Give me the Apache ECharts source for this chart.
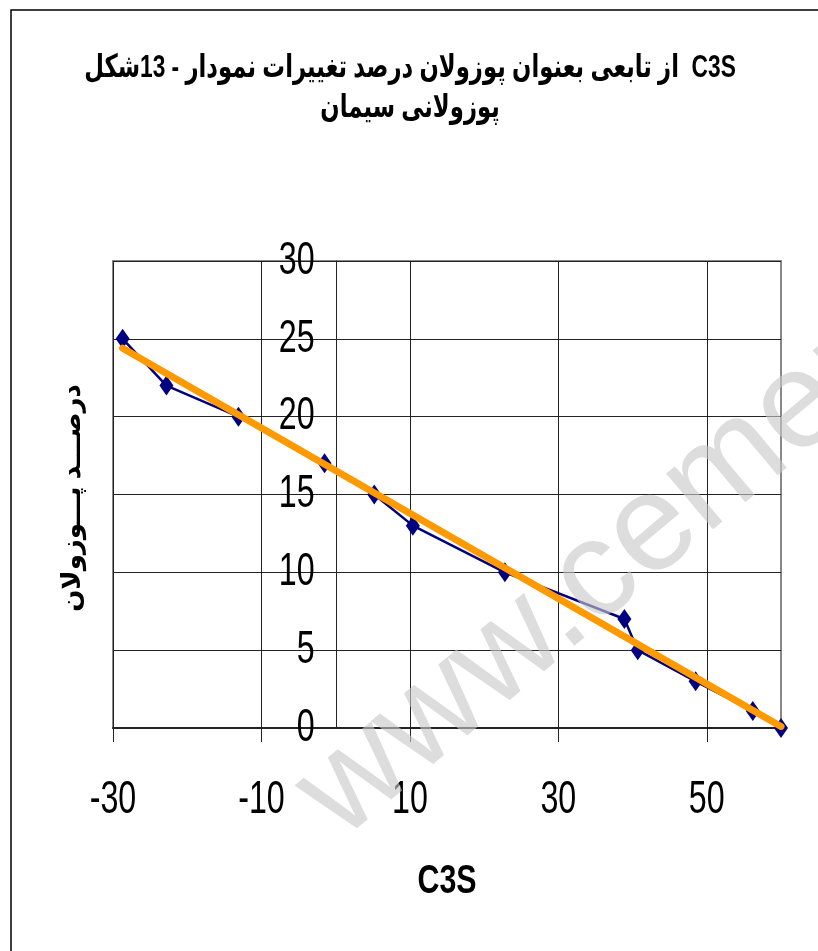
<!DOCTYPE html>
<html>
<head>
<meta charset="utf-8">
<script src="https://cdn.jsdelivr.net/npm/echarts@6/dist/echarts.min.js"></script>
<style>
  html, body { margin: 0; padding: 0; background: #fff; }
  #chart { width: 818px; height: 951px; }
</style>
</head>
<body>
<div id="chart"></div>
<script>
// C3S content and pozzolan percentage of each sample
const c3s      = [-28.7, -22.8, -13.1, -1.5, 5.2, 10.4, 22.8, 38.9, 40.7, 48.5, 56.2, 60];
const pozzolan = [25, 22, 20, 17, 15, 13, 10, 7, 5, 3, 1.1, 0];

// linear trend line end points
const trendX = [-28.7, 60];
const trendY = [24.4, 0.1];

// axis ticks and their labels
const xTicks = [-30, -10, 10, 30, 50];
const yTicks = [0, 5, 10, 15, 20, 25, 30];

// title words, laid out left to right
const titleWords1 = ['شکل', '13', ' - ', 'نمودار', ' ', 'تغییرات', ' ', 'درصد', ' ', 'پوزولان', ' ',
                     'بعنوان', ' ', 'تابعی', ' ', 'از', '  ', 'C3S'];
const titleWords2 = ['سیمان', ' ', 'پوزولانی'];
const xName = 'C3S';
const yName = 'درصـــد پـــوزولان';
const watermark = 'www.cementechnology.ir';

const pairs = c3s.map((x, i) => [x, pozzolan[i]]);
const trend = trendX.map((x, i) => [x, trendY[i]]);

const sans = "'Liberation Sans', 'DejaVu Sans', Arial, sans-serif";

const chart = echarts.init(document.getElementById('chart'), null, { renderer: 'canvas' });

chart.setOption({
  backgroundColor: '#ffffff',
  animation: false,
  grid: {
    left: 113,
    top: 261,
    right: 37,
    bottom: 223,
    show: true,
    borderColor: '#888888',
    borderWidth: 2,
    backgroundColor: 'transparent',
    containLabel: false,
    outerBoundsMode: 'none'
  },
  xAxis: {
    type: 'value',
    min: -30,
    max: 60,
    interval: 20,
    axisLine: { onZero: false, lineStyle: { color: '#222', width: 2 } },
    axisTick: { show: true, length: 14, customValues: xTicks, lineStyle: { color: '#222', width: 1 } },
    axisLabel: { show: false, customValues: xTicks },
    splitLine: { show: true, lineStyle: { color: '#222', width: 1 } }
  },
  yAxis: {
    type: 'value',
    min: 0,
    max: 30,
    interval: 5,
    // the value axis crosses the C3S axis at C3S = 0
    offset: -223,
    axisLine: { show: true, onZero: false, lineStyle: { color: '#222', width: 1 } },
    axisTick: { show: true, length: 7, lineStyle: { color: '#222', width: 1 } },
    axisLabel: { show: false },
    splitLine: { show: true, lineStyle: { color: '#222', width: 1 } }
  },
  series: [
    {
      type: 'line',
      data: pairs,
      symbol: 'diamond',
      symbolSize: [14, 20],
      itemStyle: { color: '#000080' },
      lineStyle: { color: '#000080', width: 2.5 },
      z: 3
    },
    {
      type: 'line',
      data: trend,
      symbol: 'none',
      lineStyle: { color: '#FF9900', width: 7, cap: 'round' },
      z: 4
    }
  ]
});

// tick labels, titles and watermark in a narrow, tall face
const toPx = (x, y) => chart.convertToPixel({ seriesIndex: 0 }, [x, y]);
const graphics = [];

graphics.push({
  type: 'rect',
  shape: { x: 11, y: 10, width: 900, height: 1000 },
  style: { fill: 'none', stroke: '#000', lineWidth: 1.5 },
  silent: true,
  z: 1
});

yTicks.forEach(v => {
  const p = toPx(0, v);
  graphics.push({
    type: 'text',
    x: p[0] - 21,
    y: p[1],
    scaleX: 0.7,
    style: { text: String(v), font: '46px ' + sans, fill: '#000', align: 'right', verticalAlign: 'middle' },
    z: 10
  });
});

xTicks.forEach(v => {
  const p = toPx(v, 0);
  graphics.push({
    type: 'text',
    x: p[0],
    y: p[1] + 72,
    scaleX: 0.7,
    style: { text: String(v), font: '46px ' + sans, fill: '#000', align: 'center', verticalAlign: 'middle' },
    z: 10
  });
});

const xNamePos = toPx(15, 0);
graphics.push({
  type: 'text',
  x: xNamePos[0],
  y: xNamePos[1] + 154,
  scaleX: 0.76,
  style: { text: xName, font: 'bold 40px ' + sans, fill: '#000', align: 'center', verticalAlign: 'middle' },
  z: 10
});

graphics.push({
  type: 'text',
  x: 73,
  y: 498,
  rotation: Math.PI / 2,
  style: { text: yName, font: 'bold 26px ' + sans, fill: '#000', align: 'center', verticalAlign: 'middle' },
  z: 10
});

function richLine(words) {
  return words.map(w => '{w|' + w + '}').join('');
}
[[titleWords1, 68], [titleWords2, 108]].forEach(([words, y]) => {
  graphics.push({
    type: 'text',
    x: 410,
    y: y,
    scaleX: 0.71,
    style: {
      text: richLine(words),
      align: 'center',
      verticalAlign: 'middle',
      rich: { w: { font: 'bold 32px ' + sans, fill: '#000' } }
    },
    z: 10
  });
});

// watermark across the plot
graphics.push({
  type: 'text',
  x: 317,
  y: 812,
  rotation: 40 * Math.PI / 180,
  style: {
    text: watermark,
    font: '138px ' + sans,
    fill: 'rgba(200,200,200,0.62)',
    align: 'left',
    verticalAlign: 'middle'
  },
  silent: true,
  z: 100
});

chart.setOption({ graphic: graphics });
</script>
</body>
</html>
